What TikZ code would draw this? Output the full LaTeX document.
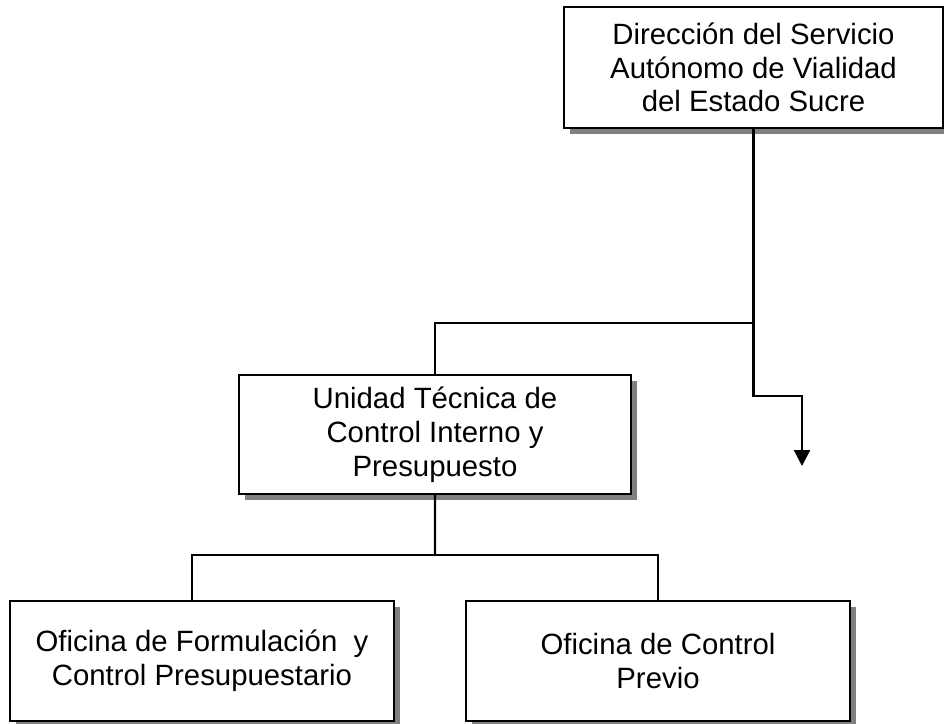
\documentclass[tikz,border=0pt]{standalone}
\usepackage{fontspec}
\setmainfont{Liberation Sans}
\usetikzlibrary{arrows.meta,positioning,shadows}

\begin{document}
\begin{tikzpicture}[>={Triangle[length=0.32cm,width=0.32cm]},node distance=2cm,on grid,
  unit/.style={draw,line width=1.3pt,fill=white,align=center,inner sep=0pt,
    font=\fontsize{16.7}{19.2}\selectfont,
    drop shadow={shadow xshift=0.11cm,shadow yshift=-0.11cm,fill=black!50,opacity=1}}]
			  \useasboundingbox (0,0) rectangle (18.88,-14.46);
			  \node[unit,minimum width=7.58cm,minimum height=2.42cm] (dir) at (15.07,-1.35) {Dirección del Servicio\\Autónomo de Vialidad\\del Estado Sucre};
			  \node[unit,minimum width=7.84cm,minimum height=2.38cm] (uni) [below left =7.34cm and 6.37cm of dir] {Unidad Técnica de\\Control Interno y\\Presupuesto};
			  \node[unit,minimum width=7.68cm,minimum height=2.40cm] (ofi1) [below left =4.53cm and 4.66cm of uni] {Oficina de Formulación\ \ y\\Control Presupuestario};
			  \node[unit,minimum width=7.68cm,minimum height=2.40cm] (ofi2) [below right =4.53cm and 4.46cm of uni] {Oficina de Control\\Previo};

			  \coordinate (j1)   at (15.07,-6.46);
			  \coordinate (bend) at (16.04,-7.92);
			  \coordinate (arr)  at (16.04,-9.32);
			  \coordinate (j2)   at (8.70,-11.10);

			\tikzset{link/.style={-,line width=1.3pt}}

			\draw[link] (dir.south) -- (j1) -| (uni.north);
			\draw[link,->] (j1) |- (bend) -- (arr);
			\draw[link] (uni.south) -- (j2);
			\draw[link] ([xshift=-0.2cm]ofi1.north) |- (j2) -| (ofi2.north);
\end{tikzpicture}
\end{document}
